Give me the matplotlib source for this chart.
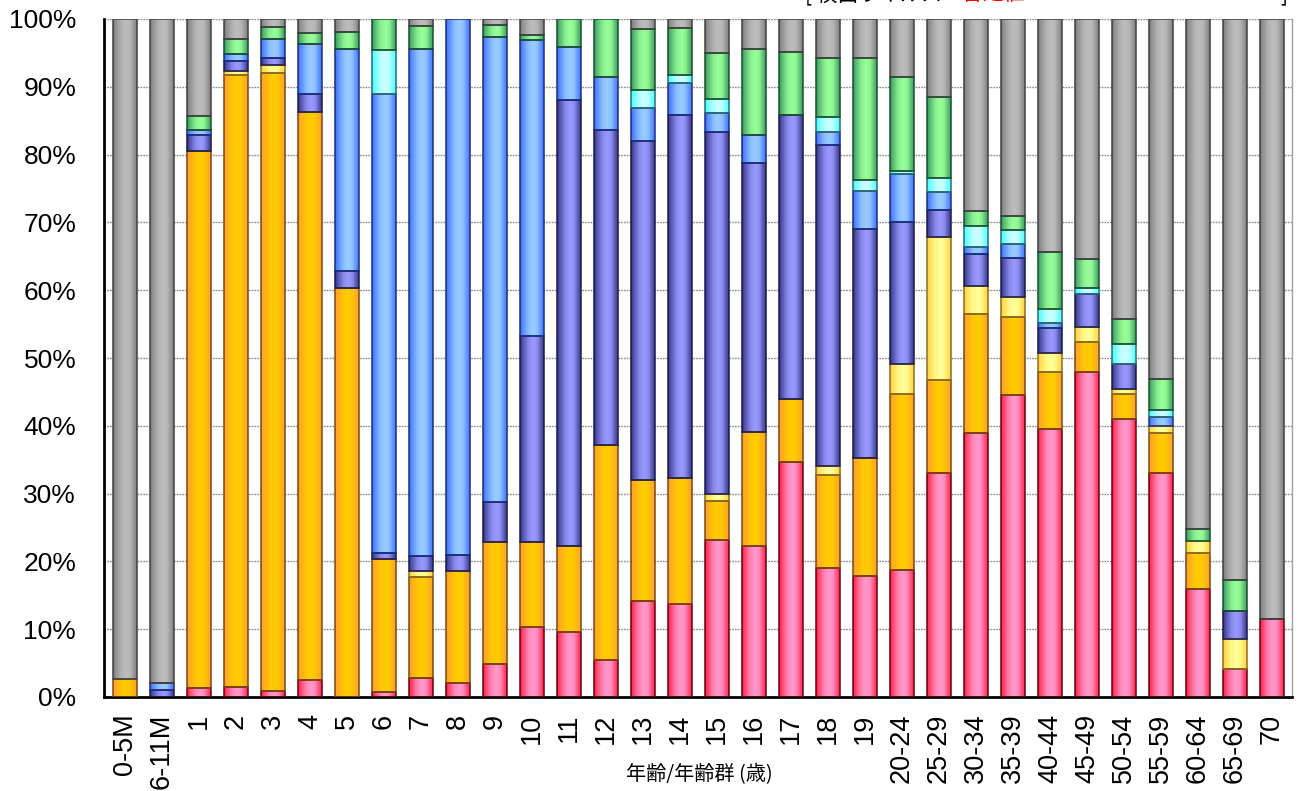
import numpy as np
import matplotlib
matplotlib.use("Agg")
import matplotlib.pyplot as plt
from matplotlib.colors import to_rgb

# ---------------- data ----------------
categories = ["0-5M", "6-11M", "1", "2", "3", "4", "5", "6", "7", "8", "9", "10",
              "11", "12", "13", "14", "15", "16", "17", "18", "19",
              "20-24", "25-29", "30-34", "35-39", "40-44", "45-49", "50-54",
              "55-59", "60-64", "65-69", "70"]

s_pink   = [0, 0, 1.3, 1.5, 0.9, 2.5, 0, 0.7, 2.8, 2.1, 4.8, 10.3,
            9.6, 5.4, 14.1, 13.7, 23.1, 22.3, 34.7, 19.0, 17.9,
            18.7, 33.0, 39.0, 44.6, 39.6, 48.0, 41.0, 33.1, 15.9, 4.1, 11.5]
s_orange = [2.6, 0, 79.3, 90.3, 91.1, 83.8, 60.3, 19.6, 14.9, 16.5, 18.1, 12.6,
            12.7, 31.7, 17.9, 18.6, 5.8, 16.8, 9.3, 13.7, 17.3,
            26.0, 13.8, 17.5, 11.4, 8.4, 4.3, 3.7, 5.8, 5.3, 0, 0]
s_yellow = [0, 0, 0, 0.5, 1.2, 0, 0, 0, 0.9, 0, 0, 0,
            0, 0, 0, 0, 1.0, 0, 0, 1.4, 0,
            4.4, 21.0, 4.1, 3.0, 2.8, 2.2, 0.7, 1.1, 1.8, 4.4, 0]
s_slate  = [0, 1.0, 2.3, 1.5, 1.1, 2.7, 2.5, 0.9, 2.2, 2.3, 5.8, 30.3,
            65.7, 46.5, 50.0, 53.5, 53.4, 39.6, 41.8, 47.3, 33.9,
            21.0, 4.0, 4.8, 5.7, 3.6, 5.0, 3.7, 0, 0, 4.2, 0]
s_lblue  = [0, 1.1, 0.8, 1.1, 2.7, 7.3, 32.8, 67.8, 74.8, 79.1, 68.7, 43.7,
            7.8, 7.8, 4.8, 4.7, 2.9, 4.2, 0, 2.0, 5.5,
            7.0, 2.7, 0.9, 2.1, 0.7, 0, 0, 1.3, 0, 0, 0]
s_cyan   = [0, 0, 0, 0, 0, 0, 0, 6.4, 0, 0, 0, 0,
            0, 0, 2.8, 1.2, 2.0, 0, 0, 2.1, 1.6,
            0.5, 2.1, 3.1, 2.1, 2.1, 0.8, 2.9, 1.0, 0, 0, 0]
s_green  = [0, 0, 2.0, 2.2, 1.8, 1.7, 2.5, 4.6, 3.3, 0, 1.7, 0.8,
            4.2, 8.6, 8.9, 6.9, 6.8, 12.7, 9.4, 8.8, 18.1,
            13.8, 11.9, 2.3, 2.1, 8.4, 4.3, 3.7, 4.6, 1.8, 4.5, 0]
s_gray   = [97.4, 97.9, 14.3, 2.9, 1.2, 2.0, 1.9, 0, 1.1, 0, 0.9, 2.3,
            0, 0, 1.5, 1.4, 5.0, 4.4, 4.8, 5.7, 5.7,
            8.6, 11.5, 28.3, 29.0, 34.4, 35.4, 44.3, 53.1, 75.2, 82.8, 88.5]

yticks = [0, 10, 20, 30, 40, 50, 60, 70, 80, 90, 100]
ytick_labels = ["0%", "10%", "20%", "30%", "40%", "50%", "60%", "70%", "80%", "90%", "100%"]
xlabel = "年齢/年齢群 (歳)"

# ---------------- style ----------------
series = [s_pink, s_orange, s_yellow, s_slate, s_lblue, s_cyan, s_green, s_gray]
dark_cols  = ["#ff1438", "#ff9933", "#ffcc33", "#2a2a7a", "#3366ff", "#33ffff", "#2f8f5a", "#787878"]
light_cols = ["#ff99cc", "#ffcc00", "#ffff99", "#9999ff", "#99ccff", "#ccffff", "#99ff99", "#bdbdbd"]
edge_cols  = ["#6a0010", "#7a4a10", "#8a7020", "#1a1a50", "#1a3080", "#2a7070", "#1a5030", "#404040"]

# horizontal shading profile (0 = dark edge colour, 1 = light centre colour)
prof_pos = [0.0, 0.08, 0.35, 0.55, 0.72, 0.88, 1.0]
prof_val = [0.0, 0.30, 0.85, 1.00, 0.90, 0.45, 0.15]
tt = np.linspace(0, 1, 64)
mix = np.interp(tt, prof_pos, prof_val)

fig = plt.figure(figsize=(12.97, 7.91), dpi=100)
ax = fig.add_axes([104 / 1297, 94 / 791, 1188 / 1297, 678 / 791])

x = np.arange(len(categories))
W = 0.63
bottom = np.zeros(len(categories))
for vals, dc, lc, ec in zip(series, dark_cols, light_cols, edge_cols):
    vals = np.asarray(vals, dtype=float)
    d = np.array(to_rgb(dc)); l = np.array(to_rgb(lc))
    grad = (d[None, :] * (1 - mix[:, None]) + l[None, :] * mix[:, None])[None, :, :]
    bars = ax.bar(x, vals, W, bottom=bottom, color=lc, edgecolor=ec,
                  linewidth=1.1, zorder=3)
    for p, v in zip(bars.patches, vals):
        if v <= 0:
            p.set_visible(False)
            continue
        x0, y0 = p.get_x(), p.get_y()
        im = ax.imshow(grad, extent=[x0, x0 + p.get_width(), y0, y0 + p.get_height()],
                       aspect="auto", origin="lower", interpolation="bilinear", zorder=2.5)
        im.set_clip_path(p)
        p.set_facecolor("none")
    bottom += vals

ax.set_xlim(-0.57, len(categories) - 1 + 0.54)
ax.set_ylim(0, 100)
ax.set_aspect("auto")

ax.set_yticks(yticks)
ax.set_yticklabels(ytick_labels, fontsize=19, family=["Liberation Sans", "DejaVu Sans"])
ax.set_xticks(x)
ax.set_xticklabels(categories, rotation=90, fontsize=19.5, va="top", ha="center",
                   family=["Liberation Sans", "DejaVu Sans"])
ax.tick_params(axis="y", length=0, pad=20)
ax.tick_params(axis="x", length=0, pad=12)

ax.set_axisbelow(True)
ax.yaxis.grid(True, linestyle=(0, (1.2, 0.8)), color="#8a8a8a", linewidth=1.0, zorder=0)
ax.xaxis.grid(False)
for side in ["left", "bottom"]:
    ax.spines[side].set_color("black")
    ax.spines[side].set_linewidth(2.0)
ax.spines["top"].set_visible(False)
ax.spines["right"].set_color("#a0a0a0")
ax.spines["right"].set_linewidth(1.0)

fig.text(699 / 1297, 1 - 775 / 791, xlabel, ha="center", va="center", fontsize=14.5,
         family=["Noto Sans CJK JP", "DejaVu Sans"])

# header text (mostly cut off above the figure edge in the reference)
ty = 1.0
fig.text(805 / 1297, ty, "[ 検出ウイルス", ha="left", va="baseline", fontsize=15,
         family=["Noto Sans CJK JP", "DejaVu Sans"], color="black")
fig.text(962 / 1297, ty, "暫定値", ha="left", va="baseline", fontsize=15,
         family=["Noto Sans CJK JP", "DejaVu Sans"], color="red")
fig.text(1280 / 1297, ty, "]", ha="left", va="baseline", fontsize=15,
         family=["Noto Sans CJK JP", "DejaVu Sans"], color="black")

fig.savefig("out.png", dpi=100)
